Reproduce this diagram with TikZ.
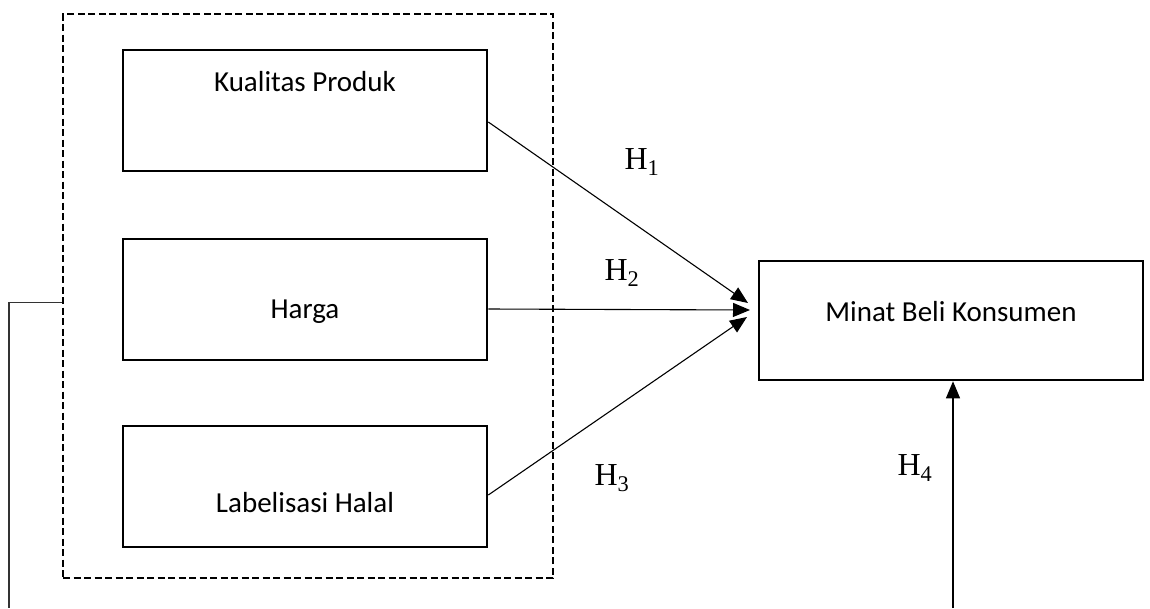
\documentclass[tikz,border=0pt]{standalone}
\usepackage{fontspec}
\setmainfont{Carlito}
\newfontfamily\hfont{Liberation Serif}
\usetikzlibrary{arrows.meta}
\begin{document}
\begin{tikzpicture}[x=1pt,y=-1pt,
  box/.style={draw=black,line width=2.6pt,minimum width=364pt,minimum height=121pt,inner sep=0pt},
  txt/.style={inner sep=0pt,font=\fontsize{29}{34}\selectfont},
  hyp/.style={inner sep=0pt,font=\hfont\fontsize{32}{36}\selectfont},
  link/.style={line width=1.1pt,-{Triangle[length=17pt,width=14pt]}},
  group/.style={draw=black,line width=2.6pt,dash pattern=on 7pt off 3.5pt}]
\useasboundingbox (0,0) rectangle (1150,608);
% dashed grouping frame
\node[group,minimum width=490pt,minimum height=564pt,inner sep=0pt] (grp) at (308,296) {};
% independent variable boxes
\node[box] (kp) at (305,110.5) {};
\node[box] (hg) at (305,299.5) {};
\node[box] (lh) at (305,486.5) {};
\node[txt] (tkp) at (305,82) {Kualitas Produk};
\node[txt] (thg) at (305,312) {Harga};
\node[txt] (tlh) at (305,503) {Labelisasi Halal};
% dependent variable box
\node[box,minimum width=384pt,minimum height=119pt] (mb) at (951,320.5) {};
\node[txt] (tmb) at (951,312) {Minat Beli Konsumen};
% hypothesis labels
\node[hyp] (h1) at (642,162) {H\textsubscript{1}};
\node[hyp] (h2) at (622,273) {H\textsubscript{2}};
\node[hyp] (h3) at (612,478) {H\textsubscript{3}};
\node[hyp] (h4) at (915,468) {H\textsubscript{4}};
% connectors
\coordinate (c1) at (748,303);
\coordinate (c2) at (750,310);
\coordinate (c3) at (747,317);
\draw[link] ([yshift=-11.5pt]kp.east) -- (c1);
\draw[link] ([yshift=-9.5pt]hg.east) -- (c2);
\draw[link] ([yshift=-8.5pt]lh.east) -- (c3);
\coordinate (lb) at (9,608);
\coordinate (rb) at (953,608);
\draw[line width=1.1pt,black!80] ([yshift=-6.7pt]grp.west) -| (lb);
\draw[link] (rb) -- (rb |- mb.south);
\end{tikzpicture}
\end{document}
